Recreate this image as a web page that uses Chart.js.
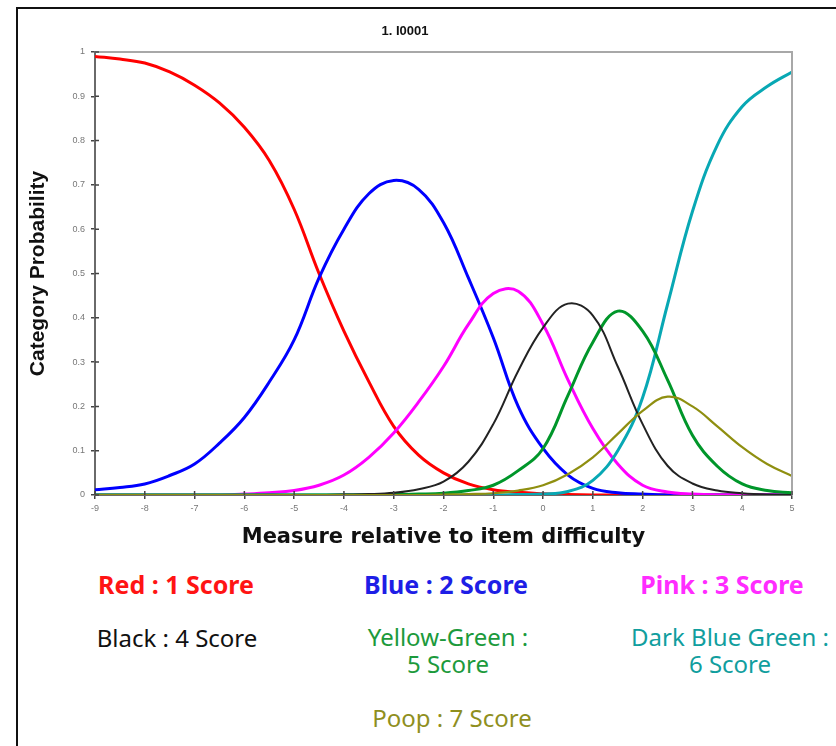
<!DOCTYPE html>
<html>
<head>
<meta charset="utf-8">
<script src="https://cdn.jsdelivr.net/npm/chart.js@4.4.1/dist/chart.umd.min.js"></script>
<style>
  html, body { margin: 0; padding: 0; background: #fff; }
  body { width: 836px; height: 746px; position: relative; overflow: hidden; }
  #frame { position: absolute; left: 16px; top: 7px; width: 900px; height: 800px;
           border-left: 2px solid #111; border-top: 2px solid #111; }
  #wrap { position: absolute; left: 0; top: 0; width: 836px; height: 560px; }
  #title { position: absolute; left: 405px; top: 30px; transform: translate(-50%, -50%);
           font: bold 13px "Liberation Sans", Arial, sans-serif; color: #111; white-space: nowrap; }
  .leg { position: absolute; transform: translate(-50%, -50%); text-align: center;
         font-family: "Noto Sans", "Open Sans", sans-serif; font-size: 24px; line-height: 27px;
         white-space: nowrap; }
  .b { font-weight: bold; font-size: 25px; }
</style>
</head>
<body>
<div id="frame"></div>
<div id="wrap"><canvas id="iccChart"></canvas></div>
<div id="title">1. I0001</div>

<div class="leg b" style="left:176px; top:584px; color:#ff1414;">Red : 1 Score</div>
<div class="leg b" style="left:446px; top:584px; color:#1e1ee6;">Blue : 2 Score</div>
<div class="leg b" style="left:722px; top:584px; color:#ff2cff;">Pink : 3 Score</div>
<div class="leg" style="left:177px; top:637px; color:#111;">Black : 4 Score</div>
<div class="leg" style="left:448px; top:650px; color:#1c9a3c;">Yellow-Green :<br>5 Score</div>
<div class="leg" style="left:730px; top:650px; color:#119e9e;">Dark Blue Green :<br>6 Score</div>
<div class="leg" style="left:452px; top:717px; color:#8f8f1e;">Poop : 7 Score</div>

<script>
// measure (logits) relative to item difficulty
const measures = [-9, -8.5, -8, -7.5, -7, -6.5, -6, -5.5, -5, -4.5, -4, -3.5, -3, -2.5, -2,
                  -1.5, -1, -0.5, 0, 0.5, 1, 1.5, 2, 2.5, 3, 3.5, 4, 4.5, 5];

// category probabilities
const red    = [0.99, 0.984, 0.975, 0.955, 0.925, 0.885, 0.83, 0.755, 0.645, 0.5, 0.37, 0.256, 0.155, 0.09, 0.05,
                0.025, 0.012, 0.006, 0.003, 0.001, 0, 0, 0, 0, 0, 0, 0, 0, 0];
const blue   = [0.012, 0.017, 0.025, 0.044, 0.07, 0.117, 0.175, 0.255, 0.35, 0.49, 0.6, 0.68, 0.71, 0.69, 0.615,
                0.49, 0.355, 0.2, 0.105, 0.045, 0.015, 0.005, 0.002, 0, 0, 0, 0, 0, 0];
const pink   = [0, 0, 0, 0, 0, 0, 0.002, 0.005, 0.01, 0.022, 0.045, 0.085, 0.14, 0.21, 0.29,
                0.385, 0.455, 0.46, 0.385, 0.26, 0.15, 0.07, 0.022, 0.007, 0.002, 0, 0, 0, 0];
const black  = [0, 0, 0, 0, 0, 0, 0, 0, 0, 0, 0.001, 0.002, 0.005, 0.013, 0.03,
                0.075, 0.16, 0.28, 0.378, 0.432, 0.405, 0.29, 0.16, 0.066, 0.026, 0.01, 0.004, 0.001, 0];
const green  = [0, 0, 0, 0, 0, 0, 0, 0, 0, 0, 0, 0, 0.001, 0.002, 0.004,
                0.01, 0.022, 0.055, 0.105, 0.225, 0.345, 0.415, 0.37, 0.26, 0.135, 0.065, 0.025, 0.01, 0.005];
const teal   = [0, 0, 0, 0, 0, 0, 0, 0, 0, 0, 0, 0, 0, 0, 0,
                0, 0, 0.001, 0.002, 0.008, 0.033, 0.1, 0.22, 0.43, 0.64, 0.79, 0.877, 0.922, 0.955];
const olive  = [0, 0, 0, 0, 0, 0, 0, 0, 0, 0, 0, 0, 0, 0, 0.001,
                0.002, 0.004, 0.01, 0.022, 0.047, 0.085, 0.138, 0.19, 0.222, 0.2, 0.155, 0.108, 0.07, 0.043];

const yTicks = [0, 0.1, 0.2, 0.3, 0.4, 0.5, 0.6, 0.7, 0.8, 0.9, 1];

function pts(arr) {
    return measures.map(function(m, i) { return { x: m, y: arr[i] }; });
}

function curve(label, arr, color, width) {
    return {
        label: label,
        data: pts(arr),
        borderColor: color,
        backgroundColor: color,
        borderWidth: width,
        pointRadius: 0,
        tension: 0.4,
        fill: false
    };
}

// light frame on top/right and tick marks that cross into the plot
const framePlugin = {
    id: 'frame',
    afterDatasetsDraw: function(chart) {
        const a = chart.chartArea, c = chart.ctx;
        c.save();
        c.strokeStyle = '#a8a8a8';
        c.lineWidth = 2;
        c.beginPath();
        c.moveTo(a.left, a.top);
        c.lineTo(a.right, a.top);
        c.lineTo(a.right, a.bottom);
        c.stroke();
        c.strokeStyle = '#444';
        c.lineWidth = 1.5;
        c.beginPath();
        chart.scales.x.ticks.forEach(function(t) {
            const px = chart.scales.x.getPixelForValue(t.value);
            c.moveTo(px, a.bottom);
            c.lineTo(px, a.bottom - 4);
        });
        chart.scales.y.ticks.forEach(function(t) {
            const py = chart.scales.y.getPixelForValue(t.value);
            c.moveTo(a.left, py);
            c.lineTo(a.left + 4, py);
        });
        c.stroke();
        c.restore();
    }
};

document.addEventListener('DOMContentLoaded', function() {
    const ctx = document.getElementById('iccChart').getContext('2d');

    new Chart(ctx, {
        type: 'line',
        data: {
            datasets: [
                curve('Poop : 7 Score', olive, '#8f8f10', 2.2),
                curve('Black : 4 Score', black, '#222222', 2),
                curve('Yellow-Green : 5 Score', green, '#00962a', 3),
                curve('Dark Blue Green : 6 Score', teal, '#08a8b4', 3),
                curve('Pink : 3 Score', pink, '#ff00ff', 3),
                curve('Blue : 2 Score', blue, '#0000ff', 3),
                curve('Red : 1 Score', red, '#ff0000', 3)
            ]
        },
        options: {
            responsive: true,
            maintainAspectRatio: false,
            animation: false,
            layout: {
                padding: { top: 52, left: 20, right: 44, bottom: 0 }
            },
            plugins: {
                legend: { display: false },
                tooltip: { enabled: false }
            },
            scales: {
                x: {
                    type: 'linear',
                    min: -9,
                    max: 5,
                    afterFit: function(s) { s.height = 65; },
                    ticks: {
                        stepSize: 1,
                        color: '#777',
                        font: { family: 'Liberation Sans', size: 9 },
                        padding: 4
                    },
                    grid: {
                        drawOnChartArea: false,
                        drawTicks: true,
                        tickLength: 4,
                        color: '#444',
                        lineWidth: 1.5
                    },
                    border: { color: '#6a6a6a', width: 2 },
                    title: {
                        display: true,
                        text: 'Measure relative to item difficulty',
                        color: '#111',
                        font: { family: 'DejaVu Sans', size: 21, weight: 'bold' },
                        padding: { top: 0, bottom: 10 }
                    }
                },
                y: {
                    type: 'linear',
                    min: 0,
                    max: 1,
                    afterFit: function(s) { s.width = 75; },
                    afterBuildTicks: function(s) {
                        s.ticks = yTicks.map(function(v) { return { value: v }; });
                    },
                    ticks: {
                        color: '#777',
                        font: { family: 'Liberation Sans', size: 9 },
                        padding: 6,
                        callback: function(v) { return String(Math.round(v * 10) / 10); }
                    },
                    grid: {
                        drawOnChartArea: false,
                        drawTicks: true,
                        tickLength: 4,
                        color: '#444',
                        lineWidth: 1.5
                    },
                    border: { color: '#6a6a6a', width: 2 },
                    title: {
                        display: true,
                        text: 'Category Probability',
                        color: '#111',
                        font: { family: 'Liberation Sans', size: 21, weight: 'bold' },
                        padding: { top: 6, bottom: 0 }
                    }
                }
            }
        },
        plugins: [framePlugin]
    });
});
</script>
</body>
</html>
